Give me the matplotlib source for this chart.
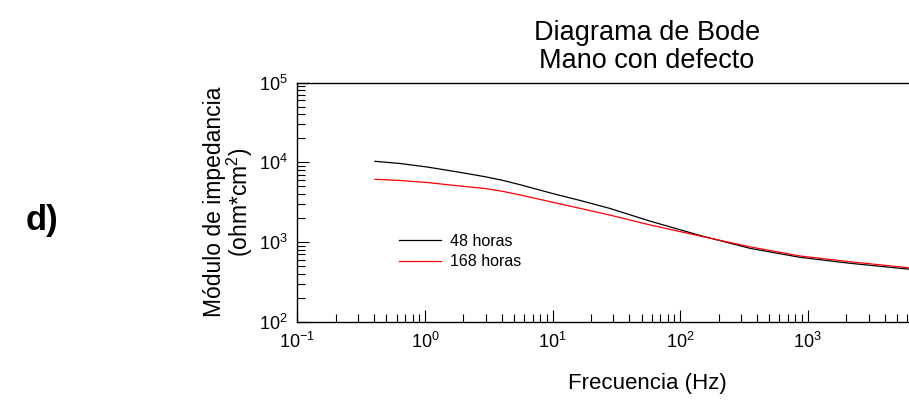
import matplotlib
matplotlib.use('Agg')
import matplotlib.pyplot as plt
import matplotlib.ticker as mticker
import numpy as np

plt.rcParams['font.family'] = 'Liberation Sans'
plt.rcParams['mathtext.fontset'] = 'custom'
plt.rcParams['mathtext.rm'] = 'Liberation Sans'
plt.rcParams['mathtext.it'] = 'Liberation Sans:italic'

# Frequencies (Hz) and impedance modulus (ohm*cm^2)
freq = [0.406, 0.638, 1.04, 1.72, 2.96, 4.06, 5.56, 10.1, 16.4, 28.2, 58.1,
        143, 353, 871, 2148, 6110, 10000]
z_48h = [10310, 9680, 8750, 7680, 6610, 5950, 5250, 4050, 3330, 2640, 1830,
         1210, 834, 643, 541, 458, 435]
z_168h = [6130, 5920, 5590, 5125, 4700, 4330, 3900, 3150, 2650, 2180, 1640,
          1190, 870, 668, 566, 476, 455]

labels = ['48 horas', '168 horas']
colors = ['black', 'red']
x_major = [0.1, 1, 10, 100, 1000]

W, H = 909, 400
fig = plt.figure(figsize=(W / 100, H / 100), dpi=100)

# axes runs on past the right edge, as in the original (cropped before 10^4)
ax = fig.add_axes([297.3 / W, (H - 321.7) / H, 638 / W, 239 / H])

ax.plot(freq, z_48h, color=colors[0], lw=0.9, label=labels[0])
ax.plot(freq, z_168h, color=colors[1], lw=0.9, label=labels[1])

ax.set_xscale('log')
ax.set_yscale('log')
ax.set_xlim(0.1, 1e4)
ax.set_ylim(1e2, 1e5)

ax.spines['right'].set_visible(False)
for s in ['left', 'bottom', 'top']:
    ax.spines[s].set_linewidth(1.0)

ax.xaxis.set_major_locator(mticker.FixedLocator(x_major))
ax.xaxis.set_major_formatter(mticker.LogFormatterSciNotation())
ax.xaxis.set_minor_locator(mticker.LogLocator(base=10, subs=np.arange(2, 10), numticks=20))
ax.yaxis.set_minor_locator(mticker.LogLocator(base=10, subs=np.arange(2, 10), numticks=20))
ax.xaxis.set_minor_formatter(mticker.NullFormatter())
ax.yaxis.set_minor_formatter(mticker.NullFormatter())

ax.tick_params(which='both', direction='in', top=False, right=False,
               labelsize=13, pad=7)
ax.tick_params(which='major', length=8.5, width=0.8)
ax.tick_params(which='minor', length=5.5, width=0.8)

ax.legend(loc='upper left', bbox_to_anchor=(399 / W, 1 - 234 / H),
          bbox_transform=fig.transFigure, frameon=False, fontsize=11.5,
          handlelength=2.6, handletextpad=0.6, labelspacing=0.32,
          borderpad=0, borderaxespad=0)

# titles and labels placed in figure coords
fig.text(647 / W, 1 - 20 / H, 'Diagrama de Bode\nMano con defecto', ha='center', va='top',
         fontsize=19.5, linespacing=1.08)
fig.text(647 / W, 1 - 383 / H, 'Frecuencia (Hz)', ha='center', va='center', fontsize=16)
fig.text(229 / W, 1 - 202 / H, 'Módulo de impedancia\n(ohm*cm$^2$)', ha='center', va='center',
         rotation=90, fontsize=16.5, linespacing=0.92, multialignment='center')
fig.text(42 / W, 1 - 220 / H, 'd)', ha='center', va='center', fontsize=25, fontweight='bold')

fig.savefig('out.png', dpi=100)
